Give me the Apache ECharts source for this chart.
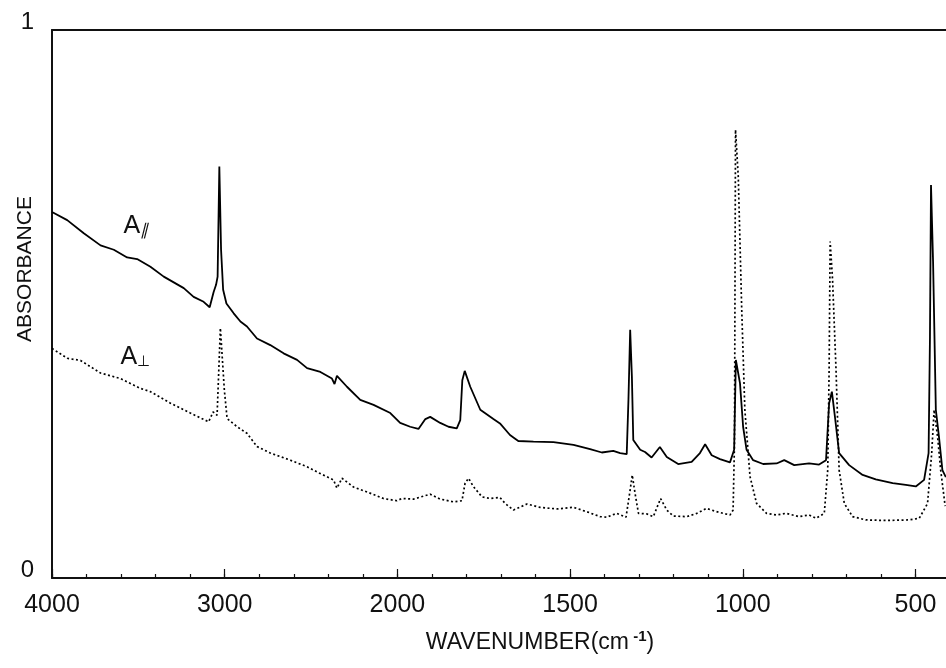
<!DOCTYPE html>
<html><head><meta charset="utf-8">
<script src="https://cdn.jsdelivr.net/npm/echarts@6/dist/echarts.min.js"></script>
<style>html,body{margin:0;padding:0;background:#fff}#c{width:946px;height:668px}</style>
</head><body><div id="c"></div>
<script>
// x tick labels (wavenumber, cm-1) and y tick labels
const tickWavenumbers = [4000, 3000, 2000, 1500, 1000, 500];
const yTickLabels = ['0', '1'];

// A parallel (solid): [wavenumber, absorbance]
const parallel = [
  [4000,0.668],[3912,0.653],[3816,0.629],[3719,0.607],[3642,0.599],[3565,0.585],[3507,0.582],
  [3430,0.568],[3353,0.550],[3237,0.529],[3180,0.513],[3122,0.504],[3087,0.494],[3064,0.522],
  [3050,0.535],[3041,0.550],[3031,0.751],[3021,0.599],[3009,0.526],[2990,0.501],[2948,0.483],
  [2909,0.468],[2871,0.459],[2813,0.437],[2736,0.425],[2659,0.410],[2581,0.398],[2523,0.383],
  [2446,0.376],[2379,0.364],[2364,0.354],[2350,0.369],[2292,0.349],[2215,0.325],[2138,0.316],
  [2041,0.301],[1992,0.283],[1963,0.276],[1939,0.272],[1919,0.290],[1905,0.294],[1876,0.283],
  [1852,0.276],[1828,0.273],[1818,0.288],[1812,0.361],[1805,0.378],[1789,0.349],[1760,0.307],
  [1722,0.290],[1703,0.282],[1674,0.261],[1650,0.250],[1606,0.249],[1548,0.248],[1490,0.243],
  [1442,0.235],[1408,0.229],[1375,0.232],[1355,0.228],[1336,0.226],[1331,0.325],[1326,0.453],
  [1321,0.367],[1317,0.252],[1297,0.234],[1283,0.230],[1264,0.220],[1240,0.239],[1220,0.221],
  [1187,0.208],[1148,0.212],[1124,0.228],[1109,0.244],[1090,0.224],[1066,0.217],[1037,0.211],
  [1025,0.234],[1020,0.398],[1008,0.355],[999,0.276],[989,0.234],[970,0.215],[941,0.208],
  [902,0.209],[880,0.215],[851,0.206],[808,0.209],[779,0.207],[759,0.215],[750,0.319],
  [742,0.340],[732,0.288],[721,0.228],[692,0.206],[653,0.188],[615,0.180],[566,0.173],
  [528,0.170],[499,0.167],[475,0.179],[462,0.228],[458,0.440],[455,0.717],[449,0.577],
  [441,0.307],[432,0.258],[422,0.197],[412,0.184]
];

// A perpendicular (dotted): [wavenumber, absorbance]
const perpendicular = [
  [4000,0.419],[3912,0.401],[3835,0.397],[3719,0.374],[3604,0.364],[3488,0.346],[3430,0.340],
  [3314,0.319],[3199,0.301],[3093,0.285],[3067,0.303],[3044,0.297],[3025,0.456],[3002,0.343],
  [2986,0.291],[2928,0.276],[2871,0.264],[2813,0.240],[2736,0.228],[2620,0.215],[2523,0.203],
  [2456,0.192],[2370,0.179],[2350,0.164],[2321,0.182],[2254,0.166],[2176,0.157],[2080,0.145],
  [2003,0.141],[1987,0.145],[1953,0.144],[1905,0.153],[1876,0.144],[1838,0.139],[1813,0.141],
  [1804,0.173],[1794,0.182],[1780,0.167],[1755,0.148],[1731,0.145],[1703,0.147],[1688,0.136],
  [1664,0.124],[1625,0.135],[1587,0.129],[1538,0.126],[1490,0.129],[1452,0.121],[1413,0.112],
  [1394,0.111],[1365,0.118],[1338,0.111],[1326,0.161],[1320,0.188],[1312,0.155],[1302,0.118],
  [1278,0.117],[1259,0.112],[1238,0.145],[1220,0.124],[1201,0.113],[1162,0.112],[1133,0.118],
  [1105,0.127],[1076,0.121],[1037,0.115],[1028,0.124],[1024,0.246],[1021,0.818],[1013,0.732],
  [1003,0.489],[994,0.307],[979,0.185],[960,0.136],[931,0.118],[902,0.115],[875,0.118],
  [837,0.112],[808,0.115],[788,0.109],[764,0.118],[754,0.197],[750,0.380],[747,0.614],
  [740,0.544],[730,0.380],[721,0.197],[706,0.136],[682,0.112],[644,0.106],[586,0.105],
  [518,0.106],[489,0.109],[465,0.136],[453,0.228],[446,0.307],[436,0.258],[427,0.197],[414,0.131]
];

// curve labels anchored at [wavenumber, absorbance]
const labelParallel = [3514, 0.642];
const labelPerp = [3517, 0.403];

// IR chart scale: 200 cm-1 per unit above 2000, 100 cm-1 per unit below (2x expansion)
function pos(wn) { return wn >= 2000 ? (4000 - wn) / 200 : 10 + (2000 - wn) / 100; }
function wnAt(p) { return p <= 10 ? 4000 - 200 * p : 2000 - 100 * (p - 10); }

const FONT = "'Liberation Sans',Arial,sans-serif";
const INK = '#111';

const chart = echarts.init(document.getElementById('c'), null, {renderer: 'canvas'});
chart.setOption({
  animation: false,
  backgroundColor: '#fff',
  grid: {left: 52, right: -4, top: 30, bottom: 90, containLabel: false, outerBoundsMode: 'none'},
  xAxis: [
    {
      type: 'value', min: 0, max: 26, interval: 1, position: 'bottom',
      axisLine: {show: true, onZero: false, lineStyle: {color: INK, width: 2}},
      axisTick: {show: true, inside: true, length: 4, lineStyle: {color: INK, width: 1.2}},
      splitLine: {show: false},
      axisLabel: {
        show: true, margin: 15, color: INK, fontFamily: FONT, fontSize: 25,
        formatter: function (v) {
          const w = Math.round(wnAt(v));
          return tickWavenumbers.indexOf(w) >= 0 ? String(w) : '';
        }
      },
      name: '{a|WAVENUMBER(cm}{s| -1}{a|)}',
      nameLocation: 'middle', nameGap: 51, nameMoveOverlap: false,
      nameTextStyle: {
        padding: [0, 0, 0, 78],
        rich: {
          a: {fontFamily: FONT, fontSize: 23, color: INK, lineHeight: 28},
          s: {fontFamily: FONT, fontSize: 15, fontWeight: 'bold', color: INK, verticalAlign: 'top', lineHeight: 28}
        }
      }
    },
    {
      type: 'value', min: 0, max: 26, interval: 5, position: 'bottom',
      axisLine: {show: false},
      axisTick: {show: true, inside: true, length: 9, lineStyle: {color: INK, width: 1.2}},
      axisLabel: {show: false}, splitLine: {show: false}
    },
    {
      type: 'value', min: 0, max: 26, position: 'top',
      axisLine: {show: true, onZero: false, lineStyle: {color: INK, width: 2}},
      axisTick: {show: false}, axisLabel: {show: false}, splitLine: {show: false}
    }
  ],
  yAxis: {
    type: 'value', min: 0, max: 1, interval: 1,
    axisLine: {show: true, onZero: false, lineStyle: {color: INK, width: 2}},
    axisTick: {show: false}, splitLine: {show: false},
    axisLabel: {
      margin: 18, fontFamily: FONT, fontSize: 24, color: INK,
      verticalAlign: 'bottom', lineHeight: 16,
      formatter: function (v) { return yTickLabels[Math.round(v)]; }
    },
    name: 'ABSORBANCE', nameLocation: 'middle', nameRotate: 90, nameGap: 16, nameMoveOverlap: false,
    nameTextStyle: {fontFamily: FONT, fontSize: 21, color: INK, padding: [0, 0, 0, 70]}
  },
  series: [
    {
      name: 'A∥', type: 'line', xAxisIndex: 0, yAxisIndex: 0, silent: true,
      showSymbol: false, symbol: 'none',
      data: parallel.map(function (d) { return [pos(d[0]), d[1]]; }),
      lineStyle: {color: '#000', width: 1.8},
      markPoint: {
        symbol: 'circle', symbolSize: 0, silent: true,
        label: {
          show: true, position: 'inside', formatter: '{a|A}{b|∥}',
          rich: {
            a: {fontFamily: FONT, fontSize: 25, color: INK},
            b: {fontFamily: FONT, fontSize: 16, fontStyle: 'italic', color: INK, verticalAlign: 'bottom'}
          }
        },
        data: [{coord: [pos(labelParallel[0]), labelParallel[1]]}]
      }
    },
    {
      name: 'A⊥', type: 'line', xAxisIndex: 0, yAxisIndex: 0, silent: true,
      showSymbol: false, symbol: 'none',
      data: perpendicular.map(function (d) { return [pos(d[0]), d[1]]; }),
      lineStyle: {color: '#000', width: 1.7, type: [2, 2.5]},
      markPoint: {
        symbol: 'circle', symbolSize: 0, silent: true,
        label: {
          show: true, position: 'inside', formatter: '{a|A}{b|⊥}',
          rich: {
            a: {fontFamily: FONT, fontSize: 25, color: INK},
            b: {fontFamily: FONT, fontSize: 15, color: INK, verticalAlign: 'bottom'}
          }
        },
        data: [{coord: [pos(labelPerp[0]), labelPerp[1]]}]
      }
    }
  ]
});
</script>
</body></html>
